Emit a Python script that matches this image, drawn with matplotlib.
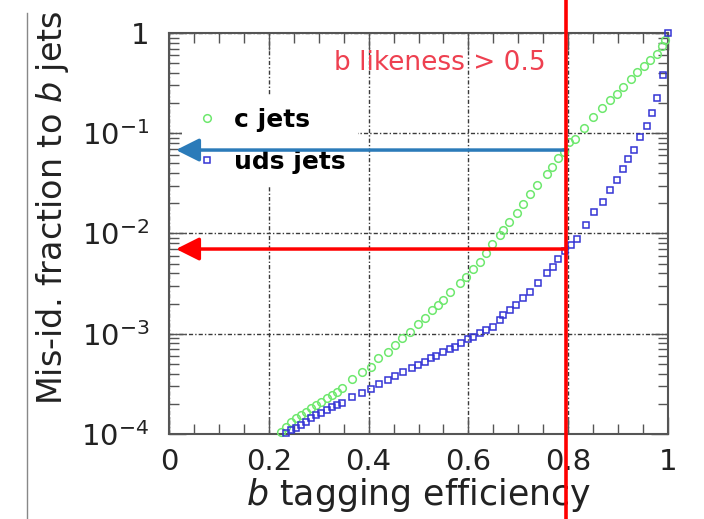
import matplotlib
matplotlib.use("Agg")
import matplotlib.pyplot as plt
from matplotlib.lines import Line2D
from matplotlib.ticker import FixedLocator, LogLocator, MultipleLocator, FuncFormatter
import matplotlib.transforms as mtransforms

plt.rcParams['font.family'] = ['DejaVu Sans']
plt.rcParams['mathtext.default'] = 'regular'

# c jets (green circles)
c_eff = [0.225, 0.235, 0.245, 0.255, 0.265, 0.275, 0.285, 0.295, 0.305, 0.316,
         0.326, 0.336, 0.346, 0.366, 0.386, 0.404, 0.419, 0.439, 0.453, 0.466,
         0.483, 0.499, 0.513, 0.526, 0.539, 0.549, 0.563, 0.583, 0.596, 0.610,
         0.623, 0.636, 0.648, 0.663, 0.670, 0.682, 0.697, 0.710, 0.723, 0.738,
         0.757, 0.767, 0.780, 0.791, 0.802, 0.814, 0.832, 0.850, 0.867, 0.884,
         0.897, 0.910, 0.925, 0.937, 0.951, 0.964, 0.977, 0.987, 0.994]
c_mis = [1.05e-4, 1.18e-4, 1.33e-4, 1.43e-4, 1.55e-4, 1.67e-4, 1.80e-4, 1.95e-4, 2.10e-4, 2.27e-4,
         2.45e-4, 2.64e-4, 2.85e-4, 3.51e-4, 4.18e-4, 4.69e-4, 5.68e-4, 6.62e-4, 7.71e-4, 8.98e-4,
         1.05e-3, 1.25e-3, 1.42e-3, 1.72e-3, 1.93e-3, 2.17e-3, 2.62e-3, 3.18e-3, 3.70e-3, 4.38e-3,
         5.22e-3, 6.32e-3, 7.83e-3, 9.62e-3, 1.08e-2, 1.31e-2, 1.61e-2, 1.99e-2, 2.45e-2, 3.08e-2,
         3.96e-2, 4.62e-2, 5.60e-2, 6.52e-2, 8.20e-2, 8.85e-2, 0.114, 0.146, 0.179, 0.217,
         0.249, 0.290, 0.351, 0.408, 0.466, 0.542, 0.622, 0.736, 0.845]

# uds jets (blue squares)
uds_eff = [0.235, 0.245, 0.255, 0.265, 0.275, 0.285, 0.295, 0.305, 0.316, 0.326,
           0.336, 0.346, 0.366, 0.386, 0.404, 0.421, 0.439, 0.453, 0.469, 0.486,
           0.499, 0.513, 0.524, 0.536, 0.549, 0.563, 0.573, 0.586, 0.600, 0.610,
           0.623, 0.636, 0.650, 0.663, 0.670, 0.683, 0.695, 0.709, 0.723, 0.740,
           0.757, 0.769, 0.780, 0.793, 0.805, 0.817, 0.836, 0.852, 0.870, 0.884,
           0.898, 0.910, 0.920, 0.932, 0.944, 0.957, 0.967, 0.977, 0.989, 0.999]
uds_mis = [1.02e-4, 1.10e-4, 1.14e-4, 1.23e-4, 1.33e-4, 1.43e-4, 1.55e-4, 1.63e-4, 1.73e-4, 1.87e-4,
           1.95e-4, 2.05e-4, 2.35e-4, 2.54e-4, 2.79e-4, 3.13e-4, 3.45e-4, 3.79e-4, 4.18e-4, 4.51e-4,
           4.87e-4, 5.26e-4, 5.68e-4, 6.04e-4, 6.52e-4, 6.98e-4, 7.42e-4, 8.01e-4, 8.79e-4, 9.33e-4,
           1.01e-3, 1.09e-3, 1.17e-3, 1.37e-3, 1.53e-3, 1.72e-3, 1.93e-3, 2.25e-3, 2.62e-3, 3.22e-3,
           4.06e-3, 4.66e-3, 5.51e-3, 6.72e-3, 7.76e-3, 8.91e-3, 1.21e-2, 1.62e-2, 2.07e-2, 2.70e-2,
           3.40e-2, 4.35e-2, 5.55e-2, 6.87e-2, 9.19e-2, 0.117, 0.161, 0.227, 0.384, 1.0]

x_ticks = [0, 0.2, 0.4, 0.6, 0.8, 1]
x_labels = ["0", "0.2", "0.4", "0.6", "0.8", "1"]
y_ticks = [1e-4, 1e-3, 1e-2, 1e-1, 1]
y_labels = ["$10^{-4}$", "$10^{-3}$", "$10^{-2}$", "$10^{-1}$", "1"]

cut_eff = 0.796
c_at_cut = 0.068
uds_at_cut = 0.0070

fig = plt.figure(figsize=(7.04, 5.19), dpi=100)
ax = fig.add_axes([0.2401, 0.1638, 0.7088, 0.7726])

ax.set_yscale('log')
ax.set_xlim(0, 1)
ax.set_ylim(1e-4, 1)

ax.plot(c_eff, c_mis, linestyle='none', marker='o', markersize=5.5, markerfacecolor='none',
        markeredgecolor='#6ee86e', markeredgewidth=1.1, clip_on=False, label='c jets', zorder=3)
ax.plot(uds_eff, uds_mis, linestyle='none', marker='s', markersize=4.5, markerfacecolor='none',
        markeredgecolor='#3434d4', markeredgewidth=1.1, clip_on=False, label='uds jets', zorder=3)

# ticks
ax.xaxis.set_major_locator(FixedLocator(x_ticks))
ax.xaxis.set_minor_locator(MultipleLocator(0.05))
ax.set_xticklabels(x_labels)
ax.yaxis.set_major_locator(FixedLocator(y_ticks))
ax.yaxis.set_minor_locator(LogLocator(base=10, subs=range(2, 10), numticks=20))
ax.yaxis.set_major_formatter(FuncFormatter(lambda v, p: y_labels[y_ticks.index(v)] if v in y_ticks else ""))
ax.tick_params(which='both', direction='in', top=True, right=True, color='#555555', width=1)
ax.tick_params(which='major', length=12, labelsize=21, labelcolor='#222222')
ax.tick_params(which='minor', length=7)
ax.tick_params(axis='x', which='major', pad=10)
ax.tick_params(axis='y', which='major', pad=14)

ax.grid(which='major', color='#3a3a3a', linestyle=(0, (3, 1.5, 1, 1.5)), linewidth=1)
for s in ax.spines.values():
    s.set_color('#555555')
    s.set_linewidth(1.5)

ax.set_xlabel("$\\it{b}$ tagging efficiency", fontsize=25, color='#222222', labelpad=0)
ax.set_ylabel("Mis-id. fraction to $\\it{b}$ jets", fontsize=24, color='#222222')
ax.yaxis.set_label_coords(-0.196, 0.565)

leg = ax.legend(loc='upper left', bbox_to_anchor=(0.0, 0.875), prop={'weight': 'bold', 'size': 18},
                frameon=True, facecolor='white', edgecolor='none', framealpha=1,
                handlelength=1.0, handletextpad=0.6, labelspacing=0.7, borderpad=0.5,
                markerscale=1.0)
leg.set_zorder(4)

ax.text(0.543, 0.5, "b likeness > 0.5", color='#ee4050', fontsize=19, ha='center', va='center', zorder=5)

# cut arrows
ax.annotate('', xy=(0.014, c_at_cut), xytext=(cut_eff, c_at_cut),
            arrowprops=dict(arrowstyle='-|>,head_length=0.4,head_width=0.2', color='#2b7bb9',
                            lw=2.5, mutation_scale=35, shrinkA=0, shrinkB=0), zorder=6)
ax.annotate('', xy=(0.014, uds_at_cut), xytext=(cut_eff, uds_at_cut),
            arrowprops=dict(arrowstyle='-|>,head_length=0.4,head_width=0.2', color='#ff0000',
                            lw=2.5, mutation_scale=35, shrinkA=0, shrinkB=0), zorder=6)

trans = mtransforms.blended_transform_factory(ax.transData, fig.transFigure)
fig.add_artist(Line2D([cut_eff, cut_eff], [0, 1], transform=trans, color='#ff0000', lw=2.6, zorder=10))
fig.add_artist(Line2D([27 / 704, 27 / 704], [0, 1 - 13 / 519], transform=fig.transFigure,
                      color='#888888', lw=1))

fig.savefig("out.png", dpi=100)
